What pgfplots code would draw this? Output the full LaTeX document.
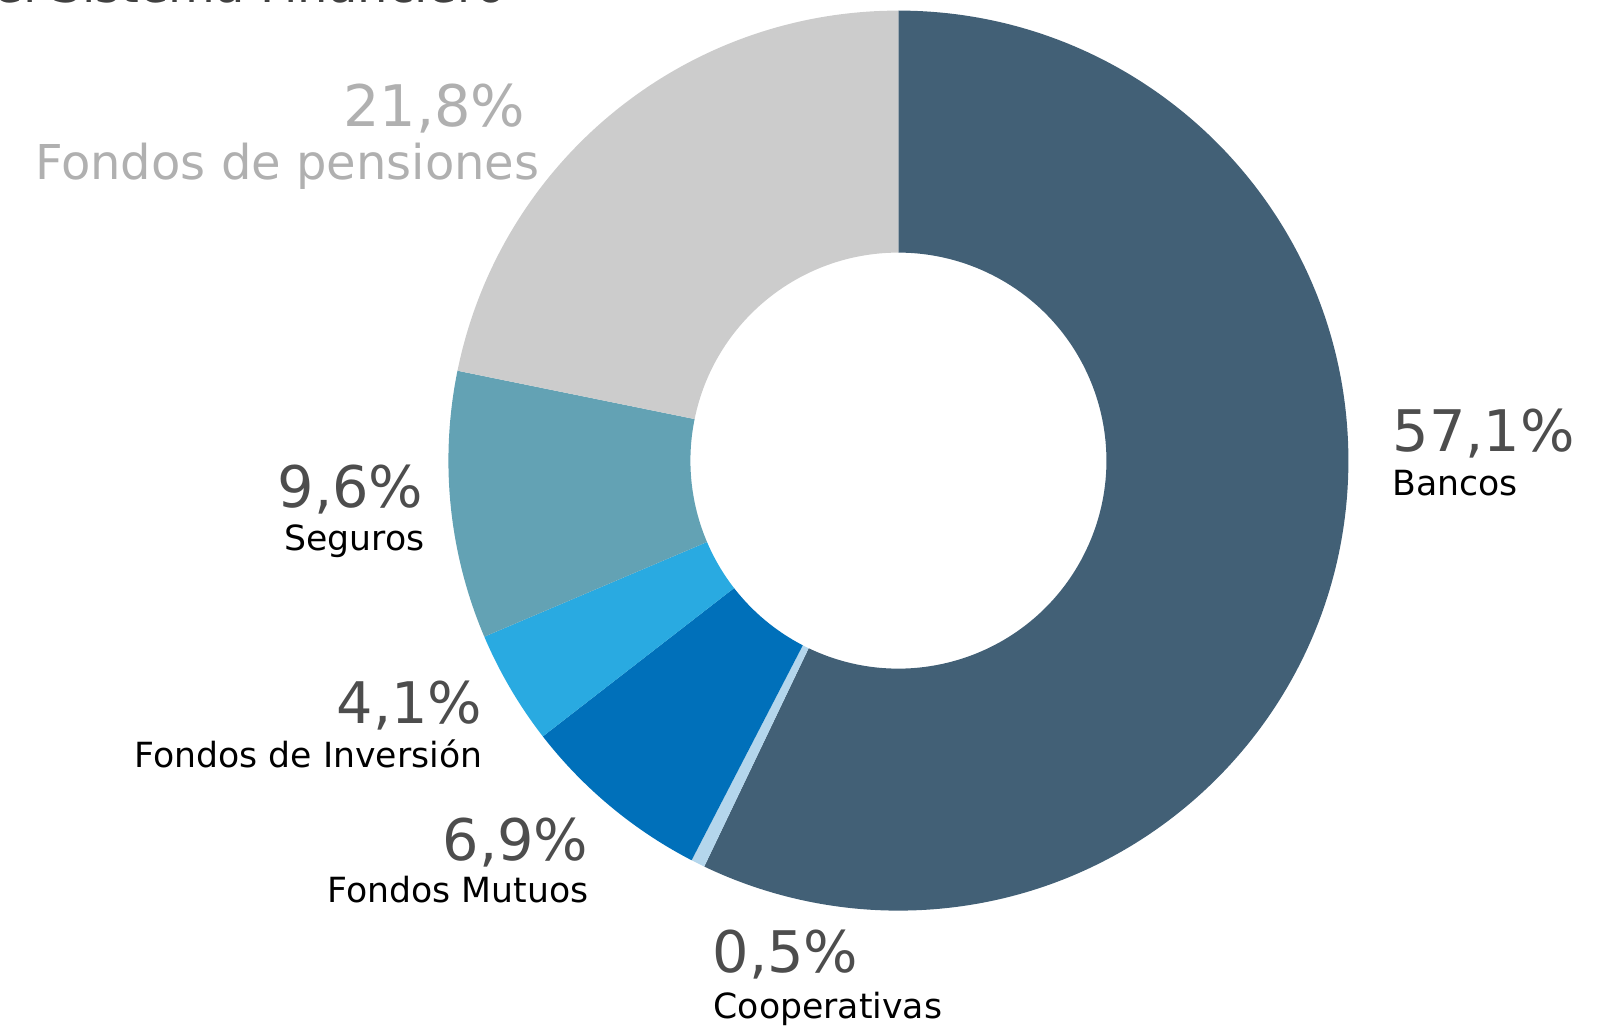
\documentclass[border=0pt]{standalone}
\usepackage{pgfplots}
\pgfplotsset{compat=1.18}
\usepackage{pgfplotstable}
\usepackage{fontspec}
\setmainfont{DejaVu Sans}

\definecolor{cBancos}{HTML}{426076}
\definecolor{cCoop}{HTML}{B4D6EC}
\definecolor{cMutuos}{HTML}{0070BA}
\definecolor{cInversion}{HTML}{29AAE1}
\definecolor{cSeguros}{HTML}{63A2B4}
\definecolor{cPensiones}{HTML}{CCCCCC}
\definecolor{pctgray}{HTML}{4D4D4D}
\definecolor{lightlab}{HTML}{B0B0B0}

% share of each sector, clockwise from 12 o'clock
\pgfplotstableread[col sep=comma]{
value,color
57.1,cBancos
0.5,cCoop
6.9,cMutuos
4.1,cInversion
9.6,cSeguros
21.8,cPensiones
}\donut

\newcommand{\pctfont}{\fontsize{17.2}{20}\selectfont}
\newcommand{\labfont}{\fontsize{10.4}{12}\selectfont}
\newcommand{\bigfont}{\fontsize{14.4}{17}\selectfont}

\tikzset{
  pct/.style={inner sep=0pt, text=pctgray, font=\pctfont},
  lab/.style={inner sep=0pt, font=\labfont},
}

\begin{document}
\begin{tikzpicture}
\useasboundingbox (0,0) rectangle (486.9pt,308.7pt);
\clip (0,0) rectangle (486.9pt,308.7pt);
\begin{axis}[
    at={(0,0)}, anchor=south west,
    scale only axis,
    width=486.9pt, height=308.7pt,
    xmin=0, xmax=1623, ymin=0, ymax=1029,
    hide axis,
    clip=false,
]
\pgfmathsetmacro{\acc}{0}
\pgfplotsforeachungrouped \i in {0,...,5}{%
  \pgfplotstablegetelem{\i}{value}\of\donut \let\val\pgfplotsretval
  \pgfplotstablegetelem{\i}{color}\of\donut \let\col\pgfplotsretval
  \pgfmathsetmacro{\angA}{90-3.6*\acc}
  \pgfmathsetmacro{\angB}{90-3.6*(\acc+\val)}
  \pgfmathsetmacro{\xo}{898.4+450*cos(\angA)}
  \pgfmathsetmacro{\yo}{568.4+450*sin(\angA)}
  \pgfmathsetmacro{\xin}{898.4+208*cos(\angB)}
  \pgfmathsetmacro{\yin}{568.4+208*sin(\angB)}
  \edef\temp{\noexpand\fill[\col] (axis cs:\xo,\yo)
    arc[start angle=\angA, end angle=\angB, radius=135pt]
    -- (axis cs:\xin,\yin)
    arc[start angle=\angB, end angle=\angA, radius=62.4pt] -- cycle;}
  \temp
  \pgfmathsetmacro{\acc}{\acc+\val}
}

% title, cut by the top edge
\node[inner sep=0pt, anchor=base east, text=black!75, font=\bigfont] at (axis cs:506,1026) {Activos del Sistema Financiero};

% labels
\node[pct, anchor=base west] at (axis cs:1392,577) {57,1\%};
\node[lab, anchor=base west] at (axis cs:1392,534) {Bancos};

\node[pct, anchor=base east, text=lightlab] at (axis cs:526,902) {21,8\%};
\node[inner sep=0pt, anchor=base east, text=lightlab, font=\bigfont] at (axis cs:540,849) {Fondos de pensiones};

\node[pct, anchor=base east] at (axis cs:424,522) {9,6\%};
\node[lab, anchor=base east] at (axis cs:425,479) {Seguros};

\node[pct, anchor=base east] at (axis cs:483,306) {4,1\%};
\node[lab, anchor=base east] at (axis cs:483,262) {Fondos de Inversión};

\node[pct, anchor=base east] at (axis cs:589,169) {6,9\%};
\node[lab, anchor=base east] at (axis cs:589,127) {Fondos Mutuos};

\node[pct, anchor=base west] at (axis cs:712,57) {0,5\%};
\node[lab, anchor=base west] at (axis cs:713,11) {Cooperativas};
\end{axis}
\end{tikzpicture}
\end{document}
